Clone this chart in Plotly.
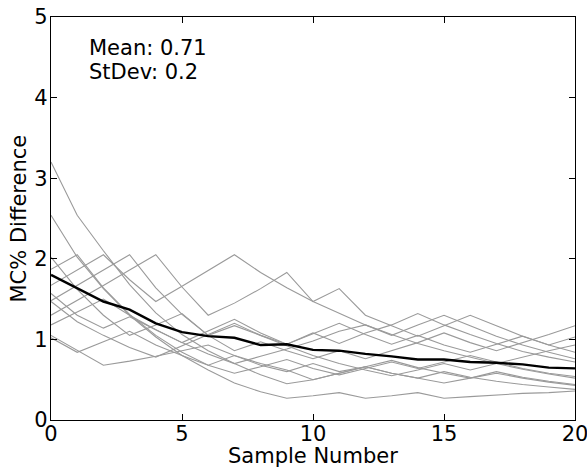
import plotly.graph_objects as go

samples = list(range(21))

runs = [
    [3.20, 2.54, 2.10, 1.68, 1.33, 1.06, 0.86, 0.70, 0.56, 0.45, 0.50, 0.58, 0.66, 0.58, 0.52, 0.60, 0.53, 0.48, 0.44, 0.41, 0.38],
    [2.54, 2.02, 1.63, 1.30, 1.03, 0.80, 0.62, 0.46, 0.35, 0.27, 0.30, 0.34, 0.27, 0.30, 0.34, 0.27, 0.29, 0.31, 0.33, 0.34, 0.36],
    [1.87, 2.05, 1.64, 1.31, 1.05, 0.84, 0.68, 0.80, 0.68, 0.60, 0.70, 0.60, 0.66, 0.74, 0.65, 0.58, 0.52, 0.60, 0.53, 0.48, 0.44],
    [1.67, 1.86, 2.05, 1.74, 1.47, 1.66, 1.85, 2.05, 1.83, 1.64, 1.47, 1.32, 1.18, 1.06, 0.95, 0.86, 0.78, 0.70, 0.63, 0.57, 0.52],
    [1.48, 1.67, 1.86, 2.05, 1.64, 1.31, 1.05, 1.17, 1.05, 0.94, 1.07, 1.20, 1.06, 0.94, 1.05, 0.93, 0.84, 0.94, 1.04, 0.93, 0.84],
    [1.30, 1.48, 1.67, 1.86, 2.05, 1.65, 1.30, 1.45, 1.63, 1.83, 1.47, 1.63, 1.30, 1.17, 1.04, 1.17, 1.30, 1.17, 1.04, 0.93, 1.03],
    [2.02, 1.62, 1.30, 1.05, 1.18, 1.32, 1.05, 0.86, 0.97, 0.86, 0.76, 0.86, 0.76, 0.86, 0.96, 1.08, 0.96, 0.86, 0.96, 1.06, 1.17],
    [1.18, 1.34, 1.50, 1.30, 1.12, 0.96, 1.10, 1.25, 1.08, 0.94, 1.08, 0.95, 1.08, 1.18, 1.32, 1.18, 1.06, 0.95, 0.85, 0.78, 0.72],
    [1.02, 0.84, 0.97, 1.10, 0.93, 0.80, 0.68, 0.58, 0.66, 0.75, 0.64, 0.56, 0.64, 0.72, 0.64, 0.72, 0.80, 0.72, 0.64, 0.58, 0.54],
    [1.05, 0.86, 0.68, 0.73, 0.79, 0.86, 0.93, 0.80, 0.70, 0.62, 0.50, 0.58, 0.66, 0.58, 0.52, 0.46, 0.52, 0.58, 0.52, 0.47, 0.43],
    [1.57, 1.30, 1.14, 1.28, 1.12, 0.96, 0.82, 0.70, 0.79, 0.88, 0.98, 1.10, 1.18, 1.05, 1.18, 1.30, 1.17, 1.04, 0.93, 0.84, 0.76],
    [1.47, 1.22, 1.05, 0.90, 0.78, 0.92, 1.06, 1.20, 1.05, 0.92, 0.80, 0.70, 0.62, 0.55, 0.62, 0.70, 0.62, 0.70, 0.78, 0.86, 0.93],
]

mean_curve = [1.80, 1.63, 1.47, 1.37, 1.20, 1.09, 1.04, 1.02, 0.93, 0.94, 0.87, 0.86, 0.82, 0.79, 0.75, 0.75, 0.72, 0.71, 0.69, 0.65, 0.64]

stats_text = ["Mean: 0.71", "StDev: 0.2"]
x_title = "Sample Number"
y_title = "MC% Difference"
x_ticks = [0, 5, 10, 15, 20]
y_ticks = [0, 1, 2, 3, 4, 5]

FONT = "DejaVu Sans, Liberation Sans, sans-serif"
FS = 21

fig = go.Figure()
for r in runs:
    fig.add_trace(go.Scatter(x=samples, y=r, mode="lines",
                             line=dict(color="#9a9a9a", width=1.1),
                             showlegend=False, hoverinfo="skip"))
fig.add_trace(go.Scatter(x=samples, y=mean_curve, mode="lines",
                         line=dict(color="black", width=2.4),
                         showlegend=False))

for i, t in enumerate(stats_text):
    fig.add_annotation(x=0, y=1, xref="paper", yref="paper",
                       xshift=36, yshift=-31 - 24 * i,
                       text=t, showarrow=False,
                       xanchor="left", yanchor="middle", align="left",
                       font=dict(family=FONT, size=FS, color="black"))

fig.add_annotation(x=0.5, y=0, xref="paper", yref="paper", yshift=-36,
                   text=x_title, showarrow=False, xanchor="center", yanchor="middle",
                   font=dict(family=FONT, size=FS, color="black"))
fig.add_annotation(x=0, y=0.5, xref="paper", yref="paper", xshift=-33,
                   text=y_title, showarrow=False, textangle=-90,
                   xanchor="center", yanchor="middle",
                   font=dict(family=FONT, size=FS, color="black"))

axis_common = dict(showline=True, linecolor="black", linewidth=1.2, mirror="ticks",
                   ticks="inside", ticklen=6, tickcolor="black", tickwidth=1,
                   showgrid=False, zeroline=False, automargin=False,
                   ticklabeloverflow="allow",
                   tickfont=dict(family=FONT, size=FS, color="black"))

fig.update_xaxes(range=[0, 20], tickvals=x_ticks, ticktext=[str(t) for t in x_ticks],
                 ticklabelstandoff=-5, **axis_common)
fig.update_yaxes(range=[0, 5], tickvals=y_ticks, ticktext=[str(t) for t in y_ticks],
                 ticklabelstandoff=-2, **axis_common)

fig.update_layout(width=587, height=467, margin=dict(l=51, r=12, t=17, b=47),
                  plot_bgcolor="white", paper_bgcolor="white",
                  font=dict(family=FONT, size=FS, color="black"))

fig.write_html("out.html")
